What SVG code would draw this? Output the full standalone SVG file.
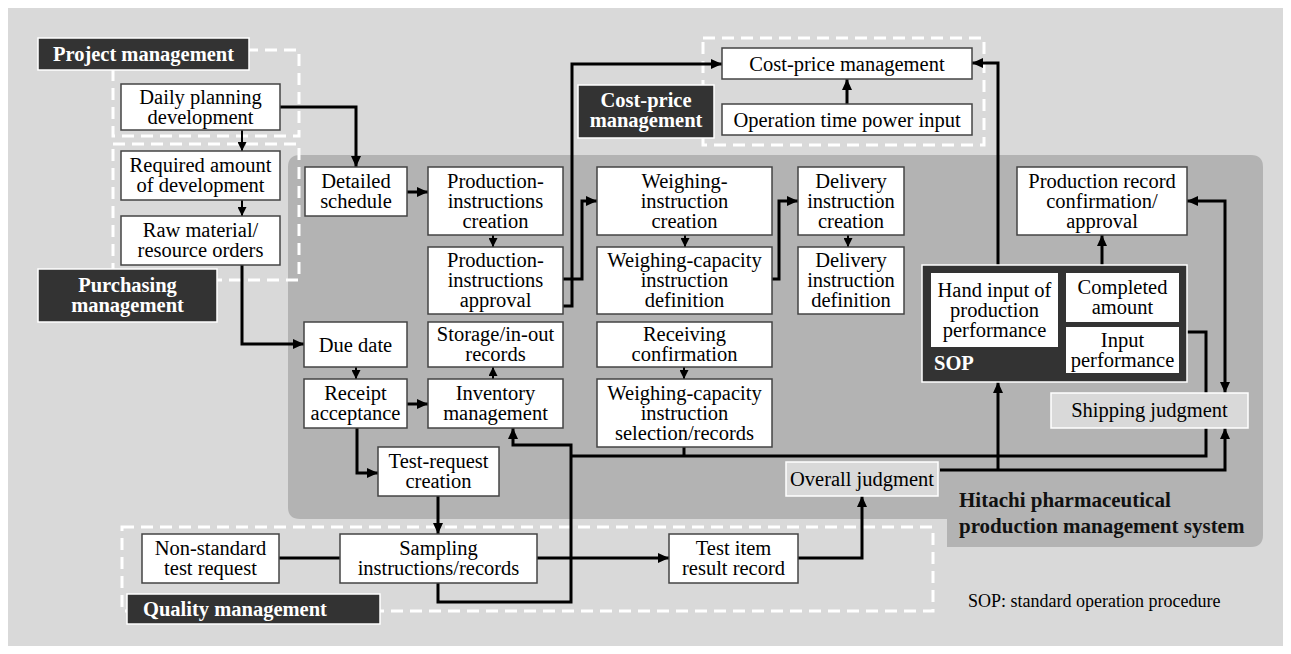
<svg xmlns="http://www.w3.org/2000/svg" width="1291" height="654" viewBox="0 0 1291 654">
<defs>
<style>
.bg{fill:#d9d9d9}
.sys{fill:#b3b3b3}
.dash{fill:none;stroke:#fff;stroke-width:3;stroke-dasharray:12 7}
.box{fill:#fff;stroke:#444;stroke-width:1.5}
.ibox{fill:#fff}
.lbox{fill:#d9d9d9;stroke:#fff;stroke-width:1.5}
.dark{fill:#333;stroke:#fff;stroke-width:1.5}
.t{font-family:"Liberation Serif","Times New Roman",serif;font-size:20.5px;fill:#000;text-anchor:middle}
.lb{font-family:"Liberation Serif","Times New Roman",serif;font-size:20.5px;font-weight:bold;fill:#fff;text-anchor:middle}
.hb{font-family:"Liberation Serif","Times New Roman",serif;font-size:21px;font-weight:bold;fill:#111}
.note{font-family:"Liberation Serif","Times New Roman",serif;font-size:18px;fill:#000}
.c{fill:none;stroke:#000;stroke-width:3}
.cs{fill:none;stroke:#000;stroke-width:2}
</style>
<marker id="arr" markerUnits="userSpaceOnUse" markerWidth="11" markerHeight="10" refX="11" refY="5" orient="auto-start-reverse"><path d="M0,0 L11,5 L0,10 z" fill="#000"/></marker>
<marker id="arrS" markerUnits="userSpaceOnUse" markerWidth="9" markerHeight="9" refX="9" refY="4.5" orient="auto"><path d="M0,0 L9,4.5 L0,9 z" fill="#000"/></marker>
</defs>
<rect class="bg" x="8" y="8" width="1275" height="638"/>
<path class="sys" d="M300,155 H1251 Q1263,155 1263,167 V535 Q1263,547 1251,547 H947 V519 H300 Q288,519 288,507 V167 Q288,155 300,155 Z"/>
<g id="groups">
<rect class="dash" x="113" y="50" width="186" height="86"/>
<rect class="dash" x="113" y="144" width="186" height="136"/>
<rect class="dash" x="703" y="38" width="281" height="107"/>
<rect class="dash" x="122" y="527" width="811" height="84"/>
</g>
<g id="connectors">
<path class="c" d="M280,107 H356 V167" marker-end="url(#arr)"/>
<path class="cs" d="M242,130 V151" marker-end="url(#arrS)"/>
<path class="cs" d="M242,200 V216" marker-end="url(#arrS)"/>
<path class="c" d="M242,265 V344 H304" marker-end="url(#arr)"/>
<path class="c" d="M407,192 H428" marker-end="url(#arr)"/>
<path class="cs" d="M493,235 V247" marker-end="url(#arrS)"/>
<path class="c" d="M563,306 H572 V64 H722" marker-end="url(#arr)"/>
<path class="c" d="M563,279 H582 V201 H597" marker-end="url(#arr)"/>
<path class="cs" d="M685,235 V247" marker-end="url(#arrS)"/>
<path class="c" d="M772,279 H779 V201 H798" marker-end="url(#arr)"/>
<path class="cs" d="M848,235 V247" marker-end="url(#arrS)"/>
<path class="cs" d="M356,367 V379" marker-end="url(#arrS)"/>
<path class="c" d="M407,404 H428" marker-end="url(#arr)"/>
<path class="cs" d="M493,379 V367" marker-end="url(#arrS)"/>
<path class="cs" d="M684,367 V379" marker-end="url(#arrS)"/>
<path class="c" d="M357,428 V473 H378" marker-end="url(#arr)"/>
<path class="c" d="M438,496 V534" marker-end="url(#arr)"/>
<path class="c" d="M279,558 H340"/>
<path class="c" d="M537,558 H669" marker-end="url(#arr)"/>
<path class="c" d="M798,558 H862 V496" marker-end="url(#arr)"/>
<path class="c" d="M438,583 V602 H571 V445 H513 V428" marker-end="url(#arr)"/>
<path class="c" d="M571,456 H1206 V332 H1187"/>
<path class="c" d="M684,447 V456"/>
<path class="c" d="M940,470 H1225 V428" marker-end="url(#arr)"/>
<path class="c" d="M998,470 V382" marker-end="url(#arr)"/>
<path class="c" d="M1102,265 V235" marker-end="url(#arr)"/>
<path class="c" d="M998,265 V63 H972" marker-end="url(#arr)"/>
<path class="c" d="M1225,393 V201 H1187" marker-start="url(#arr)" marker-end="url(#arr)"/>
<path class="c" d="M847,104 V79" marker-end="url(#arr)"/>
</g>
<g id="label-project"><rect class="dark" x="38" y="38" width="211" height="32"/><text class="lb" x="143.5" y="61">Project management</text></g>
<g id="label-purchasing"><rect class="dark" x="38" y="269" width="179" height="53"/><text class="lb" x="127.5" y="291.5">Purchasing</text><text class="lb" x="127.5" y="312">management</text></g>
<g id="label-cost"><rect class="dark" x="578" y="85" width="136" height="53"/><text class="lb" x="646" y="106.5">Cost-price</text><text class="lb" x="646" y="127">management</text></g>
<g id="label-quality"><rect class="dark" x="127" y="594" width="253" height="30"/><text class="lb" x="143" y="616" style="text-anchor:start">Quality management</text></g>
<g id="daily"><rect class="box" x="121" y="84" width="159" height="46"/><text class="t" x="200.5" y="103.5">Daily planning</text><text class="t" x="200.5" y="123.5">development</text></g>
<g id="required"><rect class="box" x="121" y="151" width="159" height="49"/><text class="t" x="200.5" y="172">Required amount</text><text class="t" x="200.5" y="192">of development</text></g>
<g id="raw"><rect class="box" x="121" y="216" width="159" height="49"/><text class="t" x="200.5" y="237">Raw material/</text><text class="t" x="200.5" y="257">resource orders</text></g>
<g id="detailed"><rect class="box" x="305" y="167" width="102" height="49"/><text class="t" x="356" y="188">Detailed</text><text class="t" x="356" y="208">schedule</text></g>
<g id="pi-create"><rect class="box" x="428" y="167" width="135" height="68"/><text class="t" x="495.5" y="187.5">Production-</text><text class="t" x="495.5" y="207.5">instructions</text><text class="t" x="495.5" y="227.5">creation</text></g>
<g id="pi-approve"><rect class="box" x="428" y="247" width="135" height="67"/><text class="t" x="495.5" y="267">Production-</text><text class="t" x="495.5" y="287">instructions</text><text class="t" x="495.5" y="307">approval</text></g>
<g id="w-create"><rect class="box" x="597" y="167" width="175" height="68"/><text class="t" x="684.5" y="187.5">Weighing-</text><text class="t" x="684.5" y="207.5">instruction</text><text class="t" x="684.5" y="227.5">creation</text></g>
<g id="w-def"><rect class="box" x="597" y="247" width="175" height="67"/><text class="t" x="684.5" y="267">Weighing-capacity</text><text class="t" x="684.5" y="287">instruction</text><text class="t" x="684.5" y="307">definition</text></g>
<g id="d-create"><rect class="box" x="798" y="167" width="106" height="68"/><text class="t" x="851" y="187.5">Delivery</text><text class="t" x="851" y="207.5">instruction</text><text class="t" x="851" y="227.5">creation</text></g>
<g id="d-def"><rect class="box" x="798" y="247" width="106" height="67"/><text class="t" x="851" y="267">Delivery</text><text class="t" x="851" y="287">instruction</text><text class="t" x="851" y="307">definition</text></g>
<g id="due"><rect class="box" x="304" y="322" width="103" height="45"/><text class="t" x="355.5" y="352">Due date</text></g>
<g id="receipt"><rect class="box" x="304" y="379" width="103" height="49"/><text class="t" x="355.5" y="400">Receipt</text><text class="t" x="355.5" y="420">acceptance</text></g>
<g id="storage"><rect class="box" x="428" y="322" width="135" height="45"/><text class="t" x="495.5" y="341">Storage/in-out</text><text class="t" x="495.5" y="361">records</text></g>
<g id="inventory"><rect class="box" x="428" y="379" width="135" height="49"/><text class="t" x="495.5" y="400">Inventory</text><text class="t" x="495.5" y="420">management</text></g>
<g id="receiving"><rect class="box" x="597" y="322" width="175" height="45"/><text class="t" x="684.5" y="341">Receiving</text><text class="t" x="684.5" y="361">confirmation</text></g>
<g id="w-sel"><rect class="box" x="597" y="379" width="175" height="68"/><text class="t" x="684.5" y="399.5">Weighing-capacity</text><text class="t" x="684.5" y="419.5">instruction</text><text class="t" x="684.5" y="439.5">selection/records</text></g>
<g id="test-req"><rect class="box" x="378" y="447" width="121" height="49"/><text class="t" x="438.5" y="468">Test-request</text><text class="t" x="438.5" y="488">creation</text></g>
<g id="prod-rec"><rect class="box" x="1017" y="167" width="170" height="68"/><text class="t" x="1102" y="187.5">Production record</text><text class="t" x="1102" y="207.5">confirmation/</text><text class="t" x="1102" y="227.5">approval</text></g>
<g id="sop"><rect class="dark" x="922" y="265" width="265" height="117"/>
<rect class="ibox" x="931" y="273" width="127" height="74"/><text class="t" x="994.5" y="296.5">Hand input of</text><text class="t" x="994.5" y="316.5">production</text><text class="t" x="994.5" y="336.5">performance</text>
<rect class="ibox" x="1066" y="273" width="113" height="49"/><text class="t" x="1122.5" y="294">Completed</text><text class="t" x="1122.5" y="314">amount</text>
<rect class="ibox" x="1066" y="327" width="113" height="46"/><text class="t" x="1122.5" y="346.5">Input</text><text class="t" x="1122.5" y="366.5">performance</text>
<text class="lb" x="934" y="370" style="text-anchor:start">SOP</text></g>
<g id="shipping"><rect class="lbox" x="1051" y="393" width="197" height="35"/><text class="t" x="1149.5" y="417">Shipping judgment</text></g>
<g id="overall"><rect class="lbox" x="786" y="462" width="152" height="34"/><text class="t" x="862" y="485.5">Overall judgment</text></g>
<g id="nonstandard"><rect class="box" x="142" y="534" width="137" height="49"/><text class="t" x="210.5" y="555">Non-standard</text><text class="t" x="210.5" y="575">test request</text></g>
<g id="sampling"><rect class="box" x="340" y="534" width="197" height="49"/><text class="t" x="438.5" y="555">Sampling</text><text class="t" x="438.5" y="575">instructions/records</text></g>
<g id="test-item"><rect class="box" x="669" y="534" width="129" height="49"/><text class="t" x="733.5" y="555">Test item</text><text class="t" x="733.5" y="575">result record</text></g>
<g id="cost-mgmt"><rect class="box" x="722" y="48" width="250" height="31"/><text class="t" x="847" y="71">Cost-price management</text></g>
<g id="op-time"><rect class="box" x="722" y="104" width="250" height="31"/><text class="t" x="847" y="127">Operation time power input</text></g>
<g id="system-title"><text class="hb" x="959" y="507">Hitachi pharmaceutical</text><text class="hb" x="959" y="533">production management system</text></g>
<text class="note" x="968" y="607">SOP: standard operation procedure</text>
</svg>
